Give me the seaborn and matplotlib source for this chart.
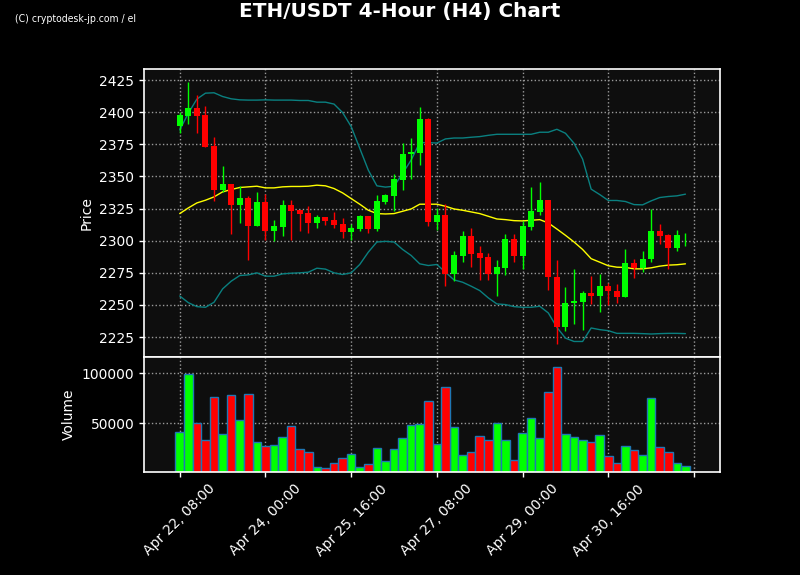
import numpy as np
import pandas as pd
import seaborn as sns
import matplotlib
matplotlib.use("Agg")
import matplotlib.pyplot as plt

# Données (bougies H4, 60 périodes)
opens = [2389.6, 2397.4, 2403.1, 2397.9, 2374.0, 2339.6, 2344.0, 2327.9, 2333.0, 2311.5,
         2330.0, 2307.6, 2310.7, 2327.6, 2324.2, 2321.4, 2313.5, 2318.2, 2315.9, 2312.8,
         2306.8, 2308.9, 2319.0, 2308.9, 2330.2, 2334.9, 2347.1, 2367.1, 2368.5, 2394.8,
         2314.6, 2319.8, 2274.2, 2288.0, 2303.4, 2290.1, 2287.0, 2274.0, 2278.6, 2301.0,
         2288.0, 2310.7, 2322.4, 2331.5, 2272.1, 2232.6, 2251.6, 2252.1, 2259.6, 2256.8,
         2265.1, 2261.0, 2256.0, 2282.6, 2278.6, 2285.4, 2307.3, 2304.2, 2294.3, 2304.2]
highs = [2400.5, 2423.4, 2413.0, 2405.2, 2381.0, 2358.3, 2344.0, 2342.7, 2334.9, 2338.0,
         2336.2, 2316.4, 2331.3, 2331.3, 2324.2, 2327.3, 2320.3, 2318.2, 2322.4, 2318.0,
         2312.8, 2320.3, 2319.0, 2335.9, 2336.7, 2351.6, 2375.8, 2379.7, 2403.9, 2395.3,
         2325.8, 2328.4, 2292.2, 2307.8, 2310.2, 2296.1, 2290.6, 2285.2, 2304.9, 2305.5,
         2315.1, 2341.9, 2345.8, 2331.5, 2285.2, 2263.8, 2278.1, 2261.2, 2272.4, 2274.2,
         2267.0, 2266.4, 2293.8, 2286.0, 2292.2, 2324.5, 2313.3, 2305.0, 2308.1, 2306.0]
lows = [2383.6, 2390.9, 2383.9, 2373.0, 2330.7, 2338.0, 2305.0, 2314.0, 2284.6, 2311.5,
        2300.3, 2299.5, 2303.4, 2300.8, 2307.6, 2306.0, 2310.0, 2312.5, 2310.0, 2302.3,
        2300.3, 2307.6, 2306.3, 2307.6, 2328.9, 2323.2, 2339.8, 2347.7, 2358.6, 2311.7,
        2308.6, 2264.8, 2268.8, 2283.3, 2279.7, 2269.5, 2269.8, 2257.3, 2273.4, 2283.6,
        2277.9, 2308.6, 2320.3, 2261.7, 2219.5, 2230.0, 2235.2, 2230.5, 2250.8, 2244.8,
        2250.3, 2251.6, 2256.0, 2271.0, 2276.0, 2283.3, 2297.7, 2278.1, 2291.9, 2296.1]
closes = [2397.9, 2403.1, 2397.4, 2373.2, 2339.6, 2344.0, 2327.9, 2333.0, 2311.5, 2330.0,
          2307.6, 2311.2, 2327.6, 2322.9, 2320.8, 2313.5, 2318.2, 2315.1, 2312.0, 2306.8,
          2309.6, 2319.0, 2308.9, 2330.7, 2335.4, 2347.9, 2367.4, 2369.0, 2394.8, 2314.6,
          2319.8, 2274.2, 2288.5, 2303.4, 2289.6, 2286.5, 2274.0, 2279.2, 2301.0, 2288.0,
          2311.2, 2322.9, 2331.5, 2271.4, 2232.6, 2251.8, 2252.9, 2259.6, 2256.8, 2265.1,
          2260.7, 2256.0, 2282.6, 2278.6, 2285.4, 2307.3, 2303.6, 2294.3, 2304.2, 2304.7]
volumes = [41000, 99000, 50000, 33000, 76000, 39000, 78000, 53000, 79000, 31000,
           27300, 28300, 36000, 47300, 24000, 21000, 7000, 6000, 11000, 15000,
           19000, 7000, 10000, 25000, 12000, 24000, 35000, 48000, 49300, 72000,
           29000, 86000, 46000, 18000, 21000, 37000, 33000, 50000, 33000, 13700,
           40000, 55000, 35000, 81000, 106000, 39000, 36000, 33000, 31000, 38000,
           17000, 11000, 27000, 23000, 18000, 75000, 26000, 21000, 11000, 8000]

# Bandes de Bollinger
bb_mid = [2321.1, 2325.5, 2329.4, 2331.5, 2334.1, 2338.0, 2339.8, 2341.4, 2341.9, 2342.4,
          2341.1, 2341.1, 2341.9, 2342.2, 2342.2, 2342.4, 2343.2, 2342.7, 2340.6, 2337.2,
          2332.8, 2328.4, 2323.7, 2321.1, 2320.8, 2321.1, 2322.9, 2324.7, 2328.4, 2328.4,
          2328.4, 2326.8, 2324.7, 2323.7, 2322.4, 2321.1, 2319.0, 2316.9, 2316.4, 2315.6,
          2315.4, 2315.9, 2316.4, 2313.8, 2309.1, 2304.2, 2299.0, 2293.2, 2286.0, 2283.3,
          2280.5, 2279.4, 2279.2, 2278.1, 2278.1, 2278.9, 2280.2, 2281.0, 2281.3, 2282.0]
bb_upper = [2386.2, 2399.2, 2410.2, 2414.8, 2415.1, 2412.2, 2410.4, 2409.6, 2409.4, 2409.4,
            2409.6, 2409.4, 2409.4, 2409.4, 2409.1, 2409.1, 2407.8, 2407.8, 2406.3, 2399.7,
            2388.8, 2371.9, 2354.9, 2342.7, 2341.7, 2342.4, 2352.3, 2362.8, 2376.3, 2376.3,
            2376.0, 2379.2, 2379.9, 2379.9, 2380.5, 2381.0, 2382.0, 2382.8, 2382.8, 2382.8,
            2382.8, 2382.8, 2384.4, 2384.4, 2386.7, 2383.6, 2375.8, 2363.5, 2340.1, 2335.9,
            2331.3, 2331.3, 2330.5, 2328.1, 2327.9, 2331.0, 2333.6, 2334.4, 2334.9, 2336.2]
bb_lower = [2257.0, 2251.8, 2248.7, 2248.2, 2252.1, 2262.5, 2268.5, 2272.9, 2273.4, 2275.0,
            2272.4, 2272.4, 2274.2, 2274.7, 2275.0, 2275.5, 2278.6, 2277.9, 2275.0, 2273.7,
            2275.0, 2281.5, 2291.1, 2299.0, 2299.5, 2299.0, 2293.2, 2288.5, 2282.0, 2280.7,
            2281.5, 2275.5, 2269.5, 2267.7, 2264.6, 2261.2, 2255.5, 2250.8, 2250.3, 2248.7,
            2248.2, 2248.2, 2249.0, 2243.8, 2232.6, 2224.2, 2221.6, 2221.6, 2232.1, 2230.8,
            2230.0, 2227.9, 2227.9, 2227.9, 2227.7, 2227.4, 2227.7, 2227.9, 2227.9, 2227.7]

dates = pd.date_range("2024-04-22 08:00", periods=60, freq="4h")
idx = np.arange(len(dates))

df = pd.DataFrame({"idx": idx, "open": opens, "high": highs, "low": lows,
                   "close": closes, "volume": volumes,
                   "mid": bb_mid, "upper": bb_upper, "lower": bb_lower})
df["dir"] = np.where(df["close"] >= df["open"], "up", "down")
colors = {"up": "#00ff00", "down": "#ff0000"}

sns.set_theme(style="darkgrid", rc={
    "figure.facecolor": "black",
    "axes.facecolor": "#0e0e0e",
    "axes.edgecolor": "white",
    "axes.linewidth": 1.2,
    "axes.labelcolor": "white",
    "axes.labelsize": 10,
    "xtick.color": "white",
    "ytick.color": "white",
    "xtick.labelsize": 10,
    "ytick.labelsize": 10,
    "xtick.major.size": 3.5,
    "ytick.major.size": 3.5,
    "xtick.major.width": 1.0,
    "ytick.major.width": 1.0,
    "xtick.major.pad": 3.5,
    "ytick.major.pad": 3.5,
    "text.color": "white",
    "grid.color": "#9a9a9a",
    "grid.linestyle": ":",
    "grid.linewidth": 1.0,
    "xtick.bottom": True,
    "ytick.left": True,
})
plt.rcParams["font.family"] = ["DejaVu Sans"]

fig = plt.figure(figsize=(8, 5.75), dpi=100)
ax1 = fig.add_axes([0.18, 0.3791, 0.72, 0.5009])
ax2 = fig.add_axes([0.18, 0.1791, 0.72, 0.2], sharex=ax1)

# Bougies
ax1.vlines(df["idx"], df["low"], df["high"], colors=df["dir"].map(colors), linewidth=1, zorder=3)
ax1.bar(df["idx"], (df["close"] - df["open"]).abs(), bottom=df[["open", "close"]].min(axis=1),
        width=0.7, color=df["dir"].map(colors), linewidth=0, zorder=4)

# Bollinger
sns.lineplot(data=df, x="idx", y="upper", color="#0a8080", linewidth=1, ax=ax1, zorder=2)
sns.lineplot(data=df, x="idx", y="lower", color="#0a8080", linewidth=1, ax=ax1, zorder=2)
sns.lineplot(data=df, x="idx", y="mid", color="yellow", linewidth=1, ax=ax1, zorder=2)

ax1.set_ylim(2209.5, 2433.6)
ax1.set_yticks(np.arange(2225, 2426, 25))
ax1.set_ylabel("Price")
ax1.set_xlabel("")
ax1.tick_params(axis="x", labelbottom=False, length=0)

# Volume
sns.barplot(data=df, x="idx", y="volume", hue="dir", palette=colors, dodge=False,
            native_scale=True, width=1, errorbar=None, saturation=1,
            edgecolor="#1f77b4", linewidth=1, legend=False, ax=ax2)
ax2.set_ylim(1500, 116300)
ax2.set_yticks([50000, 100000])
ax2.set_ylabel("Volume")
ax2.set_xlabel("")

tick_pos = list(range(0, 61, 10))
tick_labels = [dates[i].strftime("%b %d, %H:%M") if i < len(dates) else "" for i in tick_pos]
ax2.set_xticks(tick_pos)
ax2.set_xticklabels(tick_labels, rotation=45)
ax2.xaxis.grid(True)
ax1.xaxis.grid(True)
ax2.set_xlim(-4.17, 63.03)

for ax in (ax1, ax2):
    for s in ax.spines.values():
        s.set_color("white")
        s.set_visible(True)

fig.suptitle("ETH/USDT 4-Hour (H4) Chart", fontsize=14.4, fontweight="bold", color="white", y=0.997)
fig.text(0.019, 0.962, "(C) cryptodesk-jp.com / el", fontsize=7.5, color="white",
         family=["Liberation Sans Narrow", "DejaVu Sans"], fontstretch="condensed")

fig.savefig("out.png", dpi=100, facecolor="black")
